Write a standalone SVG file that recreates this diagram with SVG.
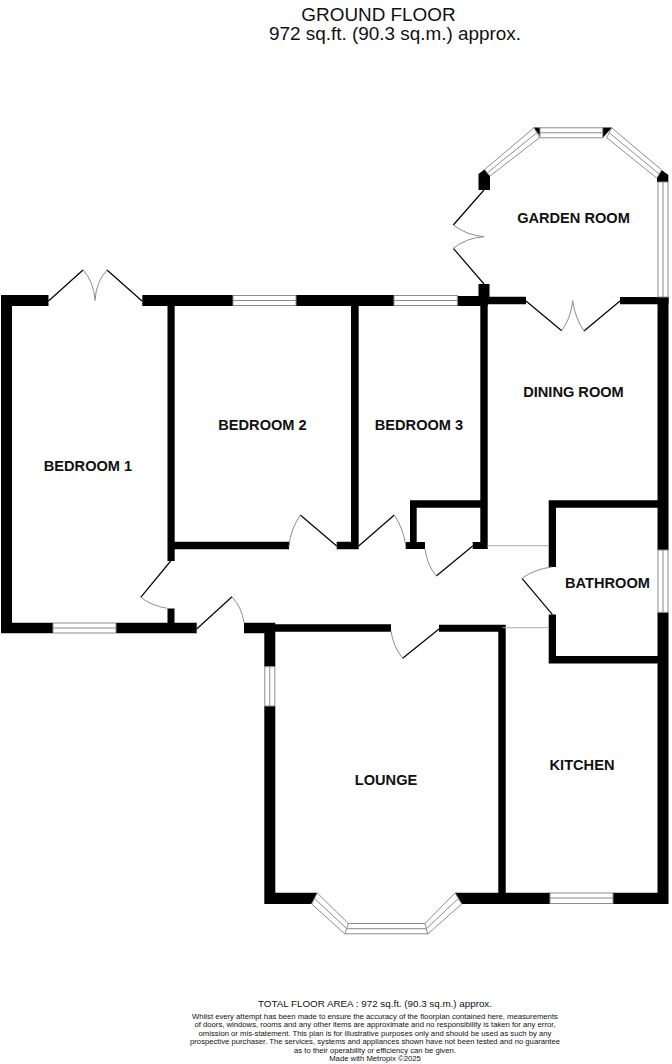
<svg xmlns="http://www.w3.org/2000/svg" width="672" height="1064" viewBox="0 0 672 1064">
<style>
text{font-family:"Liberation Sans",Arial,sans-serif;fill:#111;text-anchor:middle}
.t{font-size:18.9px}
.r{font-size:14.6px;font-weight:bold}
.f1{font-size:9.8px}
.f2{font-size:7.7px}
.w{fill:#000}
.g{fill:#fff;stroke:#8c8c8c;stroke-width:1}
.c{fill:none;stroke:#8c8c8c;stroke-width:1}
.l{fill:none;stroke:#000;stroke-width:1.2}
.a{fill:none;stroke:#8c8c8c;stroke-width:1}
.th{fill:none;stroke:#aaa;stroke-width:1}
</style>
<rect width="672" height="1064" fill="#fff"/>
<g id="walls">
<path class="w" d="M1 295H48.5V306H12V622.7H53V633.3H1Z"/>
<path class="w" d="M116 622.7H167.5V608.5H174.5V622.7H196.7V633.3H116Z"/>
<path class="w" d="M142.3 295H233V306H142.3Z"/>
<path class="w" d="M296 295H394V306H296Z"/>
<path class="w" d="M457.3 296H478.5V284H489.5V296.7H526V304.3H487.7V306H457.3Z"/>
<path class="w" d="M620 297H668.5V304.3H620Z"/>
<path class="w" d="M167.5 306H174.7V541.7H289V549.3H174.7V561H167.5Z"/>
<path class="w" d="M351 306H358.7V549.3H336.7V541.7H351Z"/>
<path class="w" d="M480.3 304H487.7V549H472.7V542H480.3V507.7H416.7V542H425V549H405.7V542H410V500.3H480.3Z"/>
<path class="w" d="M657.5 297H668.5V550H657.5V507.7H556V567H548.7V500.3H657.5Z"/>
<path class="w" d="M657.5 612.3H668.5V904H613V892.7H657.5V663.5H548.7V614.5H556V656H657.5Z"/>
<path class="w" d="M244 622.7H275.3V624.3H391V631.7H275.3V666.7H264.3V633.3H244Z"/>
<path class="w" d="M439 624.7H505.7V892.7H550V904H461.7L455 892.7H498.3V631.7H439Z"/>
<path class="w" d="M264.3 706H275.3V892.7H317.3L311.7 904H264.3Z"/>
<path class="w" d="M478.5 190V174L484.3 169.5L490 176V190Z"/>
<path class="w" d="M533.5 127.5H540V136Z"/>
<path class="w" d="M602.7 127.5H612L602.7 138Z"/>
<path class="w" d="M661.7 170L668.3 175V182H657V178Z"/>
<path class="w" d="M343.5 930L347 929.5L346 934Z"/>
<path class="w" d="M426 929.3L429.3 931.7L426.7 934.3Z"/>
</g>
<g id="windows">
<rect class="g" x="233" y="295.5" width="63" height="10"/><path class="c" d="M233 300.5H296"/>
<rect class="g" x="394" y="295.5" width="63.3" height="10"/><path class="c" d="M394 300.5H457.3"/>
<rect class="g" x="53" y="623" width="63" height="10"/><path class="c" d="M53 628H116"/>
<rect class="g" x="550" y="893" width="63" height="10.5"/><path class="c" d="M550 898H613"/>
<rect class="g" x="264.8" y="666.7" width="10" height="39.3"/><path class="c" d="M269.8 666.7V706"/>
<rect class="g" x="658" y="550" width="10" height="62.3"/><path class="c" d="M663 550V612.3"/>
<rect class="g" x="658" y="182" width="10" height="115"/><path class="c" d="M663 182V297"/>
<rect class="g" x="540" y="127.8" width="62.7" height="10"/><path class="c" d="M540 132.8H602.7"/>
<path class="g" d="M534 127.8L484.6 169.5L490 176L539.5 137.7Z"/><path class="c" d="M536.8 132.8L487.3 172.8"/>
<path class="g" d="M611.7 127.8L661.7 170L656.7 178L606.7 137.7Z"/><path class="c" d="M609.2 132.8L659.2 174"/>
<rect class="g" x="345" y="923.5" width="82.7" height="10.3"/><path class="c" d="M346.5 928.7H426.5"/>
<path class="g" d="M317.3 893L348.3 923.5L345 934L311.7 904Z"/><path class="c" d="M314.5 898.5L346.7 928.7"/>
<path class="g" d="M455 893L425 923.5L427.7 934L461.7 904Z"/><path class="c" d="M458.3 898.5L426.3 928.7"/>
</g>
<g id="connectors">
<path class="th" d="M487.7 545.7H548.7M502.7 627.7H548.7"/>
<path class="l" d="M48.5 301L83 270M142 301L107 270"/>
<path class="a" d="M83 270Q94 282 95 300.5Q96 282 107 270"/>
<path class="l" d="M484 190L453.3 225M484 284L453.3 248.3"/>
<path class="a" d="M453.3 225Q466 235 484 236.7Q466 238 453.3 248.3"/>
<path class="l" d="M526 301L561.7 330.7M620 301L584 331"/>
<path class="a" d="M561.7 330.7Q571 318 572.7 300.7Q575 318 584 331"/>
<path class="l" d="M336.7 546L300.3 515"/><path class="a" d="M300.3 515Q290 530 289 547"/>
<path class="l" d="M358.7 546L394.3 515"/><path class="a" d="M394.3 515Q403 528 405.7 545"/>
<path class="l" d="M472.7 546L436.3 576"/><path class="a" d="M436.3 576Q427 565 425 549"/>
<path class="l" d="M552.3 614.3L522 578.3"/><path class="a" d="M522 578.3Q535 569 552 567"/>
<path class="l" d="M170.7 561L140.7 597.3"/><path class="a" d="M140.7 597.3Q152 606 167.3 608.3"/>
<path class="l" d="M196.7 629L232 596.7"/><path class="a" d="M232 596.7Q242 608 244 622.7"/>
<path class="l" d="M439 629L402.7 658.3"/><path class="a" d="M402.7 658.3Q393 646 391 631"/>
</g>
<g id="labels">
<text class="t" x="378.5" y="20.5">GROUND FLOOR</text>
<text class="t" x="395" y="39.5">972 sq.ft. (90.3 sq.m.) approx.</text>
<text class="r" x="88" y="470.5">BEDROOM 1</text>
<text class="r" x="262.5" y="429.5">BEDROOM 2</text>
<text class="r" x="419" y="429.5">BEDROOM 3</text>
<text class="r" x="573.5" y="223">GARDEN ROOM</text>
<text class="r" x="573.5" y="396.5">DINING ROOM</text>
<text class="r" x="607.5" y="588">BATHROOM</text>
<text class="r" x="582" y="769.5">KITCHEN</text>
<text class="r" x="386" y="785">LOUNGE</text>
<text class="f1" x="375" y="1006.5">TOTAL FLOOR AREA : 972 sq.ft. (90.3 sq.m.) approx.</text>
<text class="f2" x="375" y="1018.5">Whilst every attempt has been made to ensure the accuracy of the floorplan contained here, measurements</text>
<text class="f2" x="375" y="1027">of doors, windows, rooms and any other items are approximate and no responsibility is taken for any error,</text>
<text class="f2" x="375" y="1035.5">omission or mis-statement. This plan is for illustrative purposes only and should be used as such by any</text>
<text class="f2" x="375" y="1044">prospective purchaser. The services, systems and appliances shown have not been tested and no guarantee</text>
<text class="f2" x="375" y="1052.5">as to their operability or efficiency can be given.</text>
<text class="f2" x="375" y="1061">Made with Metropix ©2025</text>
</g>
</svg>
